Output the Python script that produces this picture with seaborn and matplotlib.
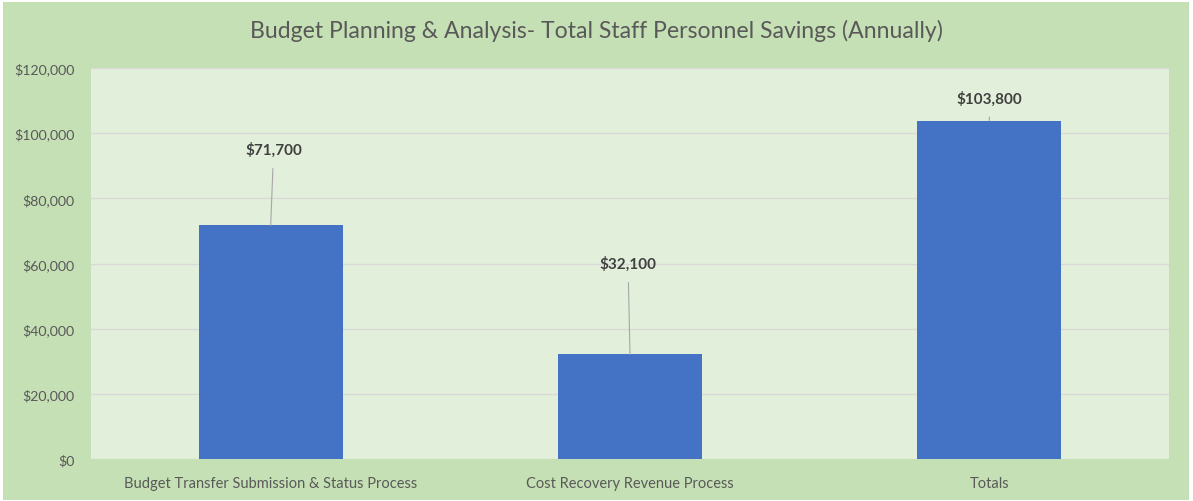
import matplotlib
matplotlib.use("Agg")
import matplotlib.pyplot as plt
import matplotlib.patches as mpatches
import seaborn as sns
import pandas as pd

categories = ["Budget Transfer Submission & Status Process",
              "Cost Recovery Revenue Process",
              "Totals"]
savings = [71700, 32100, 103800]
y_ticks = [0, 20000, 40000, 60000, 80000, 100000, 120000]

df = pd.DataFrame({"category": categories, "savings": savings})

sns.set_theme(style="white")
plt.rcParams["font.family"] = ["Lato", "DejaVu Sans"]

fig = plt.figure(figsize=(11.93, 5.02), dpi=100)
fig.patch.set_facecolor("white")
# chart area rectangle (light green)
fig.patches.append(mpatches.Rectangle((3 / 1193, 1 - 501 / 502), 1186 / 1193, 498 / 502,
                                      transform=fig.transFigure, facecolor="#c5e0b4",
                                      edgecolor="none", zorder=-1))

ax = fig.add_axes([91 / 1193, 1 - 460 / 502, 1078 / 1193, 391 / 502])
ax.set_zorder(2)
ax.set_facecolor("#e2efda")

sns.barplot(data=df, x="category", y="savings", color="#4472c4", width=0.4,
            saturation=1, linewidth=0, ax=ax, zorder=3)

ax.set_ylim(0, 120000)
ax.set_xlim(-0.5, 2.5)
ax.set_yticks(y_ticks)
ax.set_yticklabels([f"${v:,.0f}" for v in y_ticks])
ax.yaxis.grid(True, color="#d9d9d9", linewidth=0.9, zorder=0)
ax.set_axisbelow(True)
for s in ax.spines.values():
    s.set_visible(False)
ax.tick_params(axis="both", length=0, labelsize=10.5, labelcolor="#595959")
ax.tick_params(axis="y", pad=12, labelsize=10.2)
ax.tick_params(axis="x", pad=12)
ax.set_xlabel("")
ax.set_ylabel("")

# data labels with leader lines (offsets in pixels)
offsets = [(3, 76), (-2, 91), (0, 23)]
for i, (v, off) in enumerate(zip(savings, offsets)):
    ax.annotate(f"${v:,.0f}", xy=(i, v), xytext=off, textcoords="offset pixels",
                ha="center", va="center", fontsize=11, fontweight="bold", color="#404040",
                arrowprops=dict(arrowstyle="-", color="#a6a6a6", lw=0.8,
                                shrinkA=6, shrinkB=0), zorder=5)

fig.text(596 / 1193, 1 - 31 / 502, "Budget Planning & Analysis- Total Staff Personnel Savings (Annually)",
         ha="center", va="center", fontsize=16.6, color="#595959")

fig.savefig("out.png", dpi=100, facecolor=fig.get_facecolor())
